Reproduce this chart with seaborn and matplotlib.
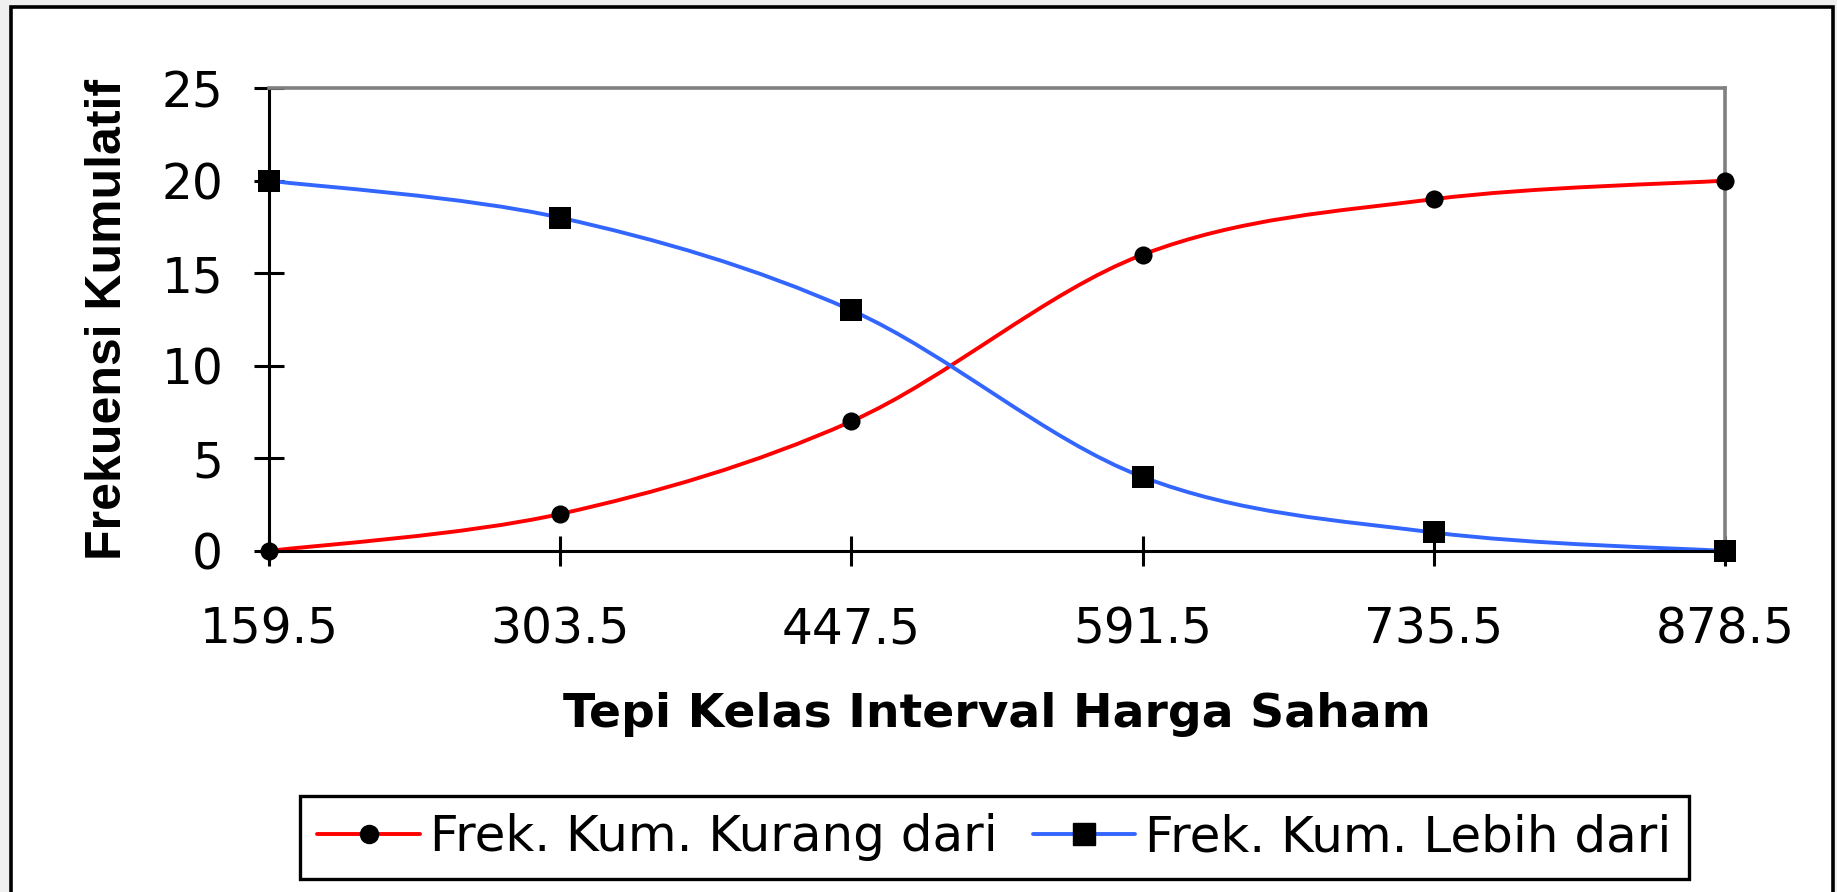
import numpy as np
import pandas as pd
import seaborn as sns
import matplotlib.pyplot as plt
from matplotlib.path import Path
from matplotlib.patches import PathPatch, Rectangle
from matplotlib.lines import Line2D

# === data ===
tepi_kelas = ["159.5", "303.5", "447.5", "591.5", "735.5", "878.5"]
kurang_dari = [0, 2, 7, 16, 19, 20]
lebih_dari = [20, 18, 13, 4, 1, 0]

df = pd.DataFrame({"Tepi": tepi_kelas, "Kurang": kurang_dari, "Lebih": lebih_dari})
df["pos"] = np.arange(len(df))

MERAH = "#FF0000"
BIRU = "#3366FF"


def kurva_halus(x, y):
    # smoothed line through the points (bezier, like excel "smoothed line")
    n = len(x)
    verts = [(x[0], y[0])]
    codes = [Path.MOVETO]
    for i in range(n - 1):
        a = max(i - 1, 0)
        b = min(i + 2, n - 1)
        c1 = (x[i] + (x[i + 1] - x[a]) / 6, y[i] + (y[i + 1] - y[a]) / 6)
        c2 = (x[i + 1] - (x[b] - x[i]) / 6, y[i + 1] - (y[b] - y[i]) / 6)
        verts += [c1, c2, (x[i + 1], y[i + 1])]
        codes += [Path.CURVE4] * 3
    return Path(verts, codes)


sns.set_theme(style="white")
plt.rcParams["font.family"] = ["DejaVu Sans"]

fig = plt.figure(figsize=(18.37, 8.92), dpi=100, facecolor="#f0f0f0")
# outer chart frame
fig.patches.append(Rectangle((11 / 1837, -0.05), 1822 / 1837, 1 - 7 / 892 + 0.05,
                             transform=fig.transFigure, facecolor="white",
                             edgecolor="black", lw=2.6, zorder=-5))

ax = fig.add_axes([0.1464, 0.3823, 0.7926, 0.519])
ax.set_facecolor("white")

# === lines ===
ax.add_patch(PathPatch(kurva_halus(df["pos"].values, df["Kurang"].values),
                       facecolor="none", edgecolor=MERAH, lw=2.8, zorder=2))
ax.add_patch(PathPatch(kurva_halus(df["pos"].values, df["Lebih"].values),
                       facecolor="none", edgecolor=BIRU, lw=2.8, zorder=2))

# === markers ===
sns.scatterplot(data=df, x="pos", y="Kurang", marker="o", s=170, color="black",
                linewidth=0, ax=ax, zorder=4, clip_on=False)
sns.scatterplot(data=df, x="pos", y="Lebih", marker="s", s=250, color="black",
                linewidth=0, ax=ax, zorder=4, clip_on=False)

# === axes ===
ax.set_xlim(0, 5)
ax.set_ylim(0, 25)
ax.set_xticks(df["pos"], tepi_kelas)
ax.set_yticks(range(0, 26, 5))

for s in ["left", "bottom"]:
    ax.spines[s].set_color("black")
    ax.spines[s].set_linewidth(2.2)
for s in ["top", "right"]:
    ax.spines[s].set_color("#808080")
    ax.spines[s].set_linewidth(2.6)

ax.tick_params(axis="both", direction="inout", length=22, width=2.2,
               color="black", labelcolor="black", labelsize=35,
               bottom=True, left=True)
ax.tick_params(axis="x", pad=28)
ax.tick_params(axis="y", pad=22)

ax.set_xlabel("Tepi Kelas Interval Harga Saham", fontsize=34, fontweight="bold",
              color="black", labelpad=28)
ax.set_ylabel("Frekuensi Kumulatif", fontsize=36, fontweight="bold",
              family="Liberation Sans", color="black", labelpad=22)

# === legend ===
handles = [
    Line2D([], [], color=MERAH, lw=2.8, marker="o", markersize=13,
           markerfacecolor="black", markeredgecolor="black"),
    Line2D([], [], color=BIRU, lw=2.8, marker="s", markersize=15.5,
           markerfacecolor="black", markeredgecolor="black"),
]
leg = fig.legend(handles, ["Frek. Kum. Kurang dari", "Frek. Kum. Lebih dari"],
                 loc="center", bbox_to_anchor=(0.5414, 0.0611), ncol=2,
                 prop={"family": "DejaVu Sans", "size": 36},
                 frameon=True, fancybox=False, framealpha=1,
                 edgecolor="black", handlelength=2.05, handletextpad=0.2,
                 columnspacing=0.7, borderpad=0.35, borderaxespad=0)
leg.get_frame().set_linewidth(2.4)
for t in leg.get_texts():
    t.set_color("black")

fig.savefig("out.png", dpi=100)
